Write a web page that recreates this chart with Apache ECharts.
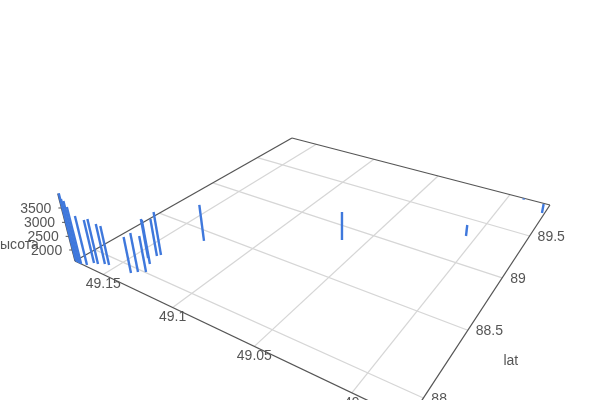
<!DOCTYPE html><html><head><meta charset="utf-8"><script src="https://cdn.jsdelivr.net/npm/echarts@6/dist/echarts.min.js"></script></head><body style="margin:0;background:#fff"><div id="c" style="width:600px;height:400px"></div><script>
var lonValues=[49.1727,49.1710,49.1693,49.1676,49.1642,49.1626,49.1600,49.1569,49.1543,49.1388,49.1364,49.1329,49.1367,49.1418,49.1392,49.1381,49.1281,49.0629,49.0053,48.9760,48.9906];
var latValues=[87.870,87.864,87.864,87.864,87.875,87.909,87.914,87.935,87.941,87.954,87.981,88.005,88.070,88.106,88.147,88.167,88.409,88.857,89.295,89.817,89.930];
var altValues=[3985,3837,3799,3627,3351,3148,3215,3041,3004,2882,2989,2884,3181,3020,2953,3169,2952,2658,2017,1955,1640];
var lonTicks=[49,49.05,49.1,49.15];
var latTicks=[88,88.5,89,89.5];
var altTicks=[2000,2500,3000,3500];
var lonRange=[48.9746,49.1727],latRange=[87.864,89.95],altRange=[1587,3985];
var altName='высота',latName='lat';

// Camera: projection matrix of the scene
var M=[[216.5,348.8,-20.8,75],[38.4,-60.7,-79.1,261],[-.2872,.4515,-.0608,1]];
function project(lon,lat,alt){
  var u=(lonRange[1]-lon)/(lonRange[1]-lonRange[0]),v=(lat-latRange[0])/(latRange[1]-latRange[0]),w=(alt-altRange[0])/(altRange[1]-altRange[0]);
  var q=M[2][0]*u+M[2][1]*v+M[2][2]*w+M[2][3];
  return [(M[0][0]*u+M[0][1]*v+M[0][2]*w+M[0][3])/q,(M[1][0]*u+M[1][1]*v+M[1][2]*w+M[1][3])/q];
}
var Z=altRange[0],lo=lonRange,la=latRange;
var gridSegs=[];
lonTicks.forEach(function(t){gridSegs.push([t,la[0],Z,t,la[1],Z]);});
latTicks.forEach(function(t){gridSegs.push([lo[0],t,Z,lo[1],t,Z]);});
var axisSegs=[[lo[1],la[0],Z,lo[0],la[0],Z],[lo[0],la[0],Z,lo[0],la[1],Z],[lo[0],la[1],Z,lo[1],la[1],Z],[lo[1],la[1],Z,lo[1],la[0],Z],[lo[1],la[0],Z,lo[1],la[0],altRange[1]]];
var barSegs=lonValues.map(function(l,i){return [l,latValues[i],Z,l,latValues[i],altValues[i]];});
function segSeries(name,data,color,width,cap,z){
  return {type:'custom',name:name,coordinateSystem:'none',silent:true,z:z,clip:false,animation:false,data:data,
    renderItem:function(p,api){var s=data[p.dataIndex],a=project(s[0],s[1],s[2]),b=project(s[3],s[4],s[5]);
      return {type:'line',shape:{x1:a[0],y1:a[1],x2:b[0],y2:b[1]},style:{stroke:color,lineWidth:width,lineCap:cap}};}};
}
var labels=[];
lonTicks.forEach(function(t){labels.push({p:[t,la[0],Z],t:String(t),dx:0,dy:10,al:'center'});});
latTicks.forEach(function(t){labels.push({p:[lo[0],t,Z],t:String(t),dx:8,dy:1,al:'left'});});
altTicks.forEach(function(t){labels.push({p:[lo[1],la[0],t],t:String(t),dx:-10,dy:1,al:'right'});});
labels.push({p:[lo[1],la[0],2350],t:altName,dx:-31,dy:5,al:'right'});
labels.push({p:[lo[0],88.5,Z],t:latName,dx:43,dy:31,al:'center'});
var tickSegs=altTicks.map(function(t){return t;});
var chart=echarts.init(document.getElementById('c'),null,{renderer:'canvas'});
chart.setOption({animation:false,backgroundColor:'#fff',series:[
  segSeries('grid',gridSegs,'#d6d6d6',1.25,'butt',1),
  segSeries('axes',axisSegs,'#555',1.25,'butt',2),
  {type:'custom',name:'ticks',coordinateSystem:'none',silent:true,z:2,data:tickSegs,renderItem:function(p){var a=project(lo[1],la[0],tickSegs[p.dataIndex]);
    return {type:'line',shape:{x1:a[0]-3,y1:a[1],x2:a[0],y2:a[1]},style:{stroke:'#555',lineWidth:1}};}},
  segSeries('altitude',barSegs,'#3f78dc',2.4,'butt',3),
  {type:'custom',name:'labels',coordinateSystem:'none',silent:true,z:4,data:labels.map(function(l,i){return i;}),renderItem:function(p){var l=labels[p.dataIndex],a=project(l.p[0],l.p[1],l.p[2]);
    return {type:'text',x:a[0]+l.dx,y:a[1]+l.dy,style:{text:l.t,fill:'#555',font:'14px "Liberation Sans"',textAlign:l.al,textVerticalAlign:'middle'}};}}
]});
</script></body></html>
